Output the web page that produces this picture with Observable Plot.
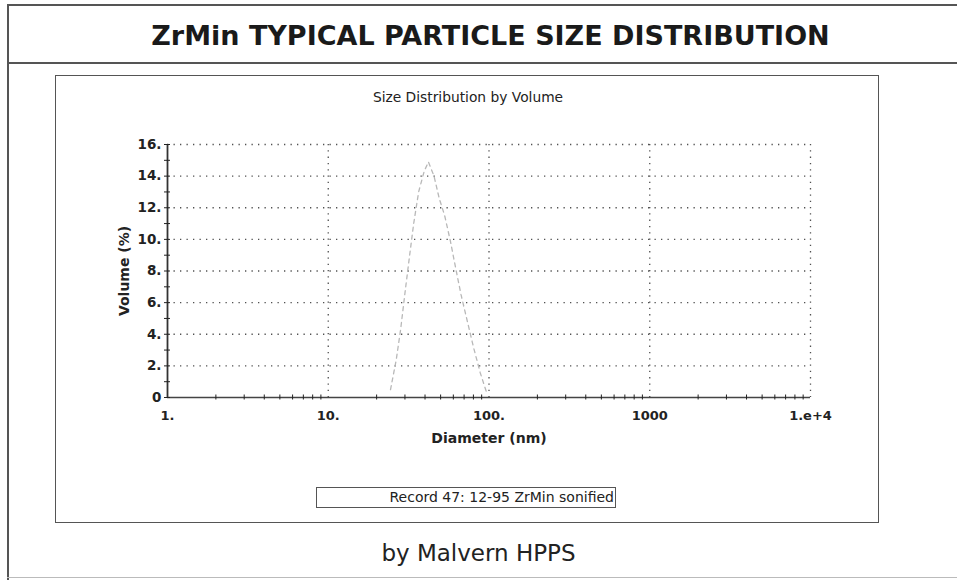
<!DOCTYPE html>
<html>
<head>
<meta charset="utf-8">
<script src="https://cdn.jsdelivr.net/npm/d3@7"></script>
<script src="https://cdn.jsdelivr.net/npm/@observablehq/plot@0.6"></script>
<style>
  html, body { margin: 0; padding: 0; background: #fff; }
  #page { position: relative; width: 957px; height: 580px; overflow: hidden; background: #fff; }
  .abs { position: absolute; }
  #title { left: 12px; width: 957px; top: 21px; text-align: center; font-family: "DejaVu Sans", Verdana, sans-serif; font-weight: bold; font-size: 27px; color: #1a1a1a; line-height: 30px; white-space: nowrap; }
  #subtitle { left: 218px; width: 500px; top: 88px; text-align: center; font-family: "DejaVu Sans", sans-serif; font-size: 13.8px; line-height: 18px; color: #222; }
  #footer { left: 0; width: 957px; top: 538px; text-align: center; font-family: "DejaVu Sans", Verdana, sans-serif; font-size: 23px; color: #222; line-height: 30px; }
  #legend { left: 316px; top: 487px; width: 300px; height: 21px; border: 1.5px solid #555; box-sizing: border-box; text-align: right; font-family: "DejaVu Sans", sans-serif; font-size: 14px; line-height: 18px; color: #222; padding-right: 1px; white-space: nowrap; }
  #chart { left: 0; top: 0; }
</style>
</head>
<body>
<div id="page">
  <div class="abs" style="left:7px;top:4px;width:950px;height:2px;background:#555"></div>
  <div class="abs" style="left:7px;top:4px;width:2px;height:576px;background:#555"></div>
  <div class="abs" style="left:7px;top:62px;width:950px;height:2px;background:#555"></div>
  <div class="abs" style="left:7px;top:577px;width:950px;height:1px;background:#bbb"></div>
  <div class="abs" style="left:55px;top:75px;width:824px;height:448px;border:1.5px solid #555;box-sizing:border-box"></div>
  <div class="abs" id="title">ZrMin TYPICAL PARTICLE SIZE DISTRIBUTION</div>
  <div class="abs" id="subtitle">Size Distribution by Volume</div>
  <div class="abs" id="chart"></div>
  <div class="abs" id="legend">Record 47: 12-95 ZrMin sonified</div>
  <div class="abs" id="footer">by Malvern HPPS</div>
</div>
<script>
// Data
const diameter = [24.4, 26.5, 28.2, 30.0, 32.0, 34.0, 36.5, 39.5, 42.0, 45.5, 49.0, 53.0, 57.5, 62.0, 67.0, 73.0, 80.0, 88.0, 96.0];
const volume   = [0.5, 2.4, 4.3, 6.6, 8.9, 11.0, 13.0, 14.3, 14.9, 14.0, 12.6, 11.5, 9.9, 8.2, 6.5, 4.9, 3.2, 1.6, 0.4];

const xTicks = [1, 10, 100, 1000, 10000];
const xTickLabels = ["1.", "10.", "100.", "1000", "1.e+4"];
const xMinor = [2,3,4,5,6,7,8,9,20,30,40,50,60,70,80,90,200,300,400,500,600,700,800,900,2000,3000,4000,5000,6000,7000,8000,9000];
const yTicks = [0, 2, 4, 6, 8, 10, 12, 14, 16];
const yTickLabels = ["0", "2.", "4.", "6.", "8.", "10.", "12.", "14.", "16."];
const yMinor = [1, 3, 5, 7, 9, 11, 13, 15];
const xGrid = [10, 100, 1000, 10000];
const yGrid = [2, 4, 6, 8, 10, 12, 14, 16];

const points = diameter.map((d, i) => ({d, v: volume[i]}));
const xFmt = d => xTickLabels[xTicks.indexOf(d)] ?? "";
const yFmt = d => yTickLabels[yTicks.indexOf(d)] ?? "";
const blank = () => "";

const chart = Plot.plot({
  width: 957,
  height: 580,
  marginLeft: 167,
  marginRight: 147,
  marginTop: 144,
  marginBottom: 183,
  style: {fontFamily: "DejaVu Sans, sans-serif", fontSize: "13px", background: "transparent", color: "#222"},
  x: {type: "log", domain: [1, 10000]},
  y: {domain: [0, 16]},
  marks: [
    Plot.gridY(yGrid, {stroke: "#333", strokeOpacity: 0.85, strokeWidth: 1.3, strokeDasharray: "1.3,5.2"}),
    Plot.gridX(xGrid, {stroke: "#333", strokeOpacity: 0.85, strokeWidth: 1.3, strokeDasharray: "1.3,5"}),
    Plot.line(points, {x: "d", y: "v", stroke: "#b8b8b8", strokeWidth: 1.3, strokeDasharray: "4,4"}),
    Plot.ruleY([0], {stroke: "#444", strokeWidth: 1.5}),
    Plot.ruleX([1], {stroke: "#333", strokeWidth: 1.8}),
    Plot.axisY({ticks: yTicks, tickFormat: yFmt, tickSize: 3, tickPadding: 3, fontWeight: "bold", fontSize: 13.5, label: null}),
    Plot.axisY({ticks: [0], tickFormat: blank, tickSize: 0, label: "Volume (%)", labelArrow: "none", labelAnchor: "center", labelOffset: 48, fontWeight: "bold", fontSize: 14}),
    Plot.axisY({ticks: [...yTicks, ...yMinor], tickFormat: blank, tickSize: 3, dx: 3, label: null}),
    Plot.axisY({ticks: yMinor, tickFormat: blank, tickSize: 3, label: null}),
    Plot.axisX({ticks: xTicks, tickFormat: xFmt, tickSize: 0, tickPadding: 13, fontWeight: "bold", fontSize: 13, label: null}),
    Plot.axisX({ticks: [1], tickFormat: blank, tickSize: 0, label: "Diameter (nm)", labelArrow: "none", labelAnchor: "center", labelOffset: 45, fontWeight: "bold", fontSize: 14}),
    Plot.axisX({ticks: xMinor, tickFormat: blank, tickSize: 2.5, label: null}),
    Plot.axisX({ticks: xMinor, tickFormat: blank, tickSize: 2.5, dy: -2.5, label: null})
  ]
});
document.getElementById("chart").appendChild(chart);
</script>
</body>
</html>
